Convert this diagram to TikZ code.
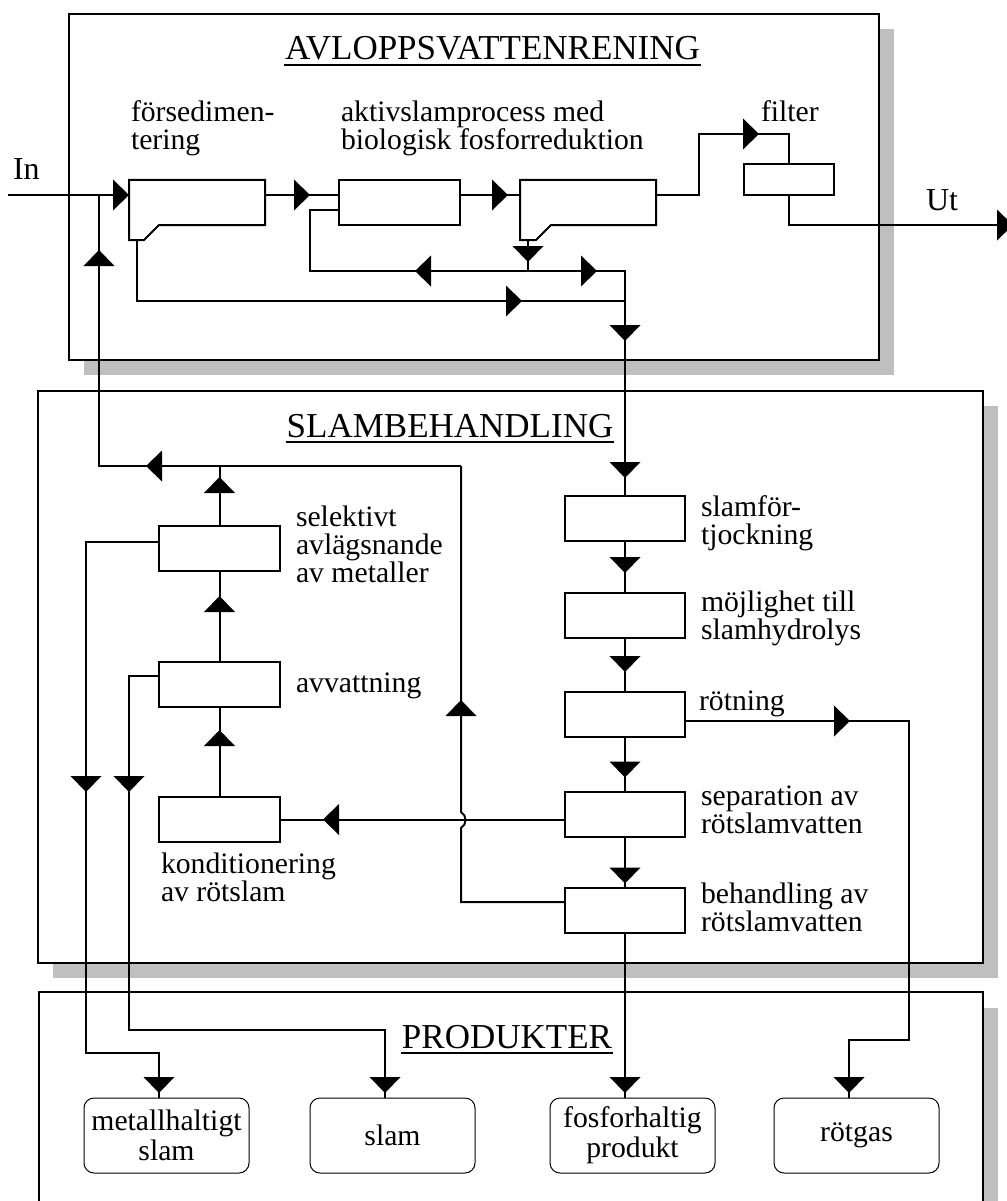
\documentclass[tikz,border=0pt]{standalone}
\usepackage{fontspec}
\setmainfont{Liberation Serif}
\usepackage{tikz}
\usetikzlibrary{calc}
\usetikzlibrary{decorations.markings}
\usetikzlibrary{positioning}
\colorlet{backdropgray}{black!25}
\tikzset{flow/.style = {postaction={decorate,
                          decoration={markings,
                                      mark=at position #1 with {\fill (0pt,0pt) -- (-16pt,15.5pt) -- (-16pt,-15.5pt) -- cycle;}}}}}
\tikzset{box/.style = {draw, outer sep=0pt, inner sep=0pt,
                       minimum width=121pt, minimum height=45pt}}
\tikzset{product/.style = {draw, line width=1pt, rounded corners=10pt, outer sep=0pt,
                           minimum width=165pt, minimum height=75pt, align=center,
                           font=\fontsize{29.7}{30}\selectfont}}
\tikzset{frame/.style = {draw, fill=white}}
\tikzset{backdrop/.style = {fill=backdropgray}}
\tikzset{note/.style = {anchor=north west, align=left, inner sep=0pt}}
\tikzset{heading/.style = {anchor=base, inner sep=0pt, font=\fontsize{35}{40}\selectfont}}

\begin{document}
\begin{tikzpicture}[x=1pt, y=-1pt, line width=2pt, font=\fontsize{29.7}{28}\selectfont]
      \useasboundingbox (0,0) rectangle (1006,1201);

      % the three frames with their shadows
      \fill [backdrop] (84,29) rectangle (894,375);
      \draw [frame] (69,14) rectangle (879,360);
      \fill [backdrop] (53,406) rectangle (998,978);
      \draw [frame] (38,391) rectangle (983,963);
      \fill [backdrop] (54,1008) rectangle (998,1255);
      \draw [frame] (39,992) rectangle (983,1240);

      \node [heading] (h1) at (492.5,60) {AVLOPPSVATTENRENING};
      \draw [line width=1.5pt] ([yshift=-5pt]h1.base west) -- ([yshift=-5pt]h1.base east);
      \node [heading] (h2) at (450,437) {SLAMBEHANDLING};
      \draw [line width=1.5pt] ([yshift=-5pt]h2.base west) -- ([yshift=-5pt]h2.base east);
      \node [heading] (h3) at (507,1048) {PRODUKTER};
      \draw [line width=1.5pt] ([yshift=-5pt]h3.base west) -- ([yshift=-5pt]h3.base east);

      % water line
      \node [box, draw=none, minimum width=136pt] (sed1) at (197,202.5) {};
      \draw (sed1.north west) -- (sed1.north east) -- (sed1.south east)
            -- ([xshift=30pt]sed1.south west) -- ++(-15,15) -- ++(-15,0) -- cycle;
      \node [box] (akt) at (399.5,202.5) {};
      \node [box, draw=none, minimum width=136pt] (sed2) at (588,202.5) {};
      \draw (sed2.north west) -- (sed2.north east) -- (sed2.south east)
            -- ([xshift=31pt]sed2.south west) -- ++(-15,15) -- ++(-16,0) -- cycle;
      \node [box, minimum width=90pt, minimum height=31pt] (filt) at (789,179.5) {};

      \node [note] (l-sed1) at (130,100) {försedimen-\\tering};
      \node [note] (l-akt) at (340,100) {aktivslamprocess med\\biologisk fosforreduktion};
      \node [note] (l-filt) at (760,100) {filter};
      \node [anchor=base west, inner sep=0pt, font=\fontsize{32}{34}\selectfont] (l-in) at (12,180) {In};
      \node [anchor=base west, inner sep=0pt, font=\fontsize{32}{34}\selectfont] (l-ut) at (925,210) {Ut};

      % sludge line
      \node [box, minimum width=120pt] (tjock) at (625,518.5) {};
      \node [box, minimum width=120pt] (hydro) at (625,615.5) {};
      \node [box, minimum width=120pt] (rot) at (625,714.5) {};
      \node [box, minimum width=120pt] (sep) at (625,814) {};
      \node [box, minimum width=120pt] (beh) at (625,910) {};
      \node [box] (selekt) at (219.5,548.5) {};
      \node [box] (avv) at (219.5,684.5) {};
      \node [box] (kond) at (219.5,819.5) {};

      \node [note] (l-tjock) at (700,495) {slamför-\\tjockning};
      \node [note] (l-hydro) at (700,590) {möjlighet till\\slamhydrolys};
      \node [note] (l-rot) at (698,690) {rötning};
      \node [note] (l-sep) at (700,785) {separation av\\rötslamvatten};
      \node [note] (l-beh) at (700,882) {behandling av\\rötslamvatten};
      \node [note] (l-selekt) at (295,505) {selektivt\\avlägsnande\\av metaller};
      \node [note] (l-avv) at (295,672) {avvattning};
      \node [note] (l-kond) at (160,852) {konditionering\\av rötslam};

      % products
      \node [product] (metall) at (166.5,1135.5) {metallhaltigt\\slam};
      \node [product] (slam) at (392.5,1135.5) {slam};
      \node [product] (fosfor) at (632.5,1135.5) {fosforhaltig\\produkt};
      \node [product] (rotgas) at (856.5,1135.5) {rötgas};

      \coordinate (in) at (8,195);
      \coordinate (out) at (1013,225);
      \coordinate (fk) at (699,134);
      \coordinate (sed1-out) at ([xshift=8pt,yshift=-15pt]sed1.south west);
      \coordinate (sed2-out) at ([xshift=8pt,yshift=-15pt]sed2.south west);
      \coordinate (ret) at (528,271);
      \coordinate (rs) at (310,271);
      \coordinate (jp) at (625,301);
      \coordinate (rt) at (461,466);
      \coordinate (jin) at (99,195);
      \coordinate (gk) at (909,1040);
      \coordinate (mk) at (86,1053);
      \coordinate (sk) at (129,1030);

      \draw [flow=1] (in) -- (sed1.west |- in);
      \draw [flow=45pt] (sed1.east |- in) -- (akt.west |- in);
      \draw [flow=-12pt] (akt.east |- in) -- (sed2.west |- in);
      \draw [flow=164pt] (sed2.east |- in) -| (fk) -| (filt.north);
      \draw [flow=1] (filt.south) |- (out);

      \draw [flow=-9pt] (sed2-out) -- (ret);
      \draw [flow=113pt] (ret) -- (rs) |- ($(akt.west)+(0,7.5)$);
      \draw [flow=69pt, flow=167pt, flow=-18pt] (ret) -| (tjock.north);
      \draw [flow=446pt] (sed1-out) |- (jp);

      \draw [flow=-20pt] (tjock.south) -- (hydro.north);
      \draw [flow=-20pt] (hydro.south) -- (rot.north);
      \draw [flow=-14pt] (rot.south) -- (sep.north);
      \draw [flow=-4pt] (sep.south) -- (beh.north);
      \draw [flow=-43pt] (sep.west |- kond.east) -- (kond.east);
      \draw [flow=-23pt] (kond.north) -- (avv.south);
      \draw [flow=-25pt] (avv.north) -- (selekt.south);
      \draw [flow=-11pt] (selekt.north) -- (selekt.north |- rt);

      \draw [flow=-234pt] ($(beh.west)+(0,-8)$) -| (461,828)
            .. controls (467,825) and (467,815) .. (461,812) -- (rt);
      \draw [flow=315pt, flow=-55pt] (rt) -| (jin);

      \draw [flow=-5pt] (beh.south) -- (beh.south |- fosfor.north);
      \draw [flow=165pt, flow=-5pt] ($(rot.east)+(0,6.5)$) -| (gk) -| ([xshift=-7.5pt]rotgas.north);
      \draw [flow=323pt, flow=-5pt] ($(selekt.west)+(0,-6.5)$) -| (mk) -| ([xshift=-7.5pt]metall.north);
      \draw [flow=146pt, flow=-5pt] ($(avv.west)+(0,-8.5)$) -| (sk) -| ([xshift=-7.5pt]slam.north);
\end{tikzpicture}
\end{document}
